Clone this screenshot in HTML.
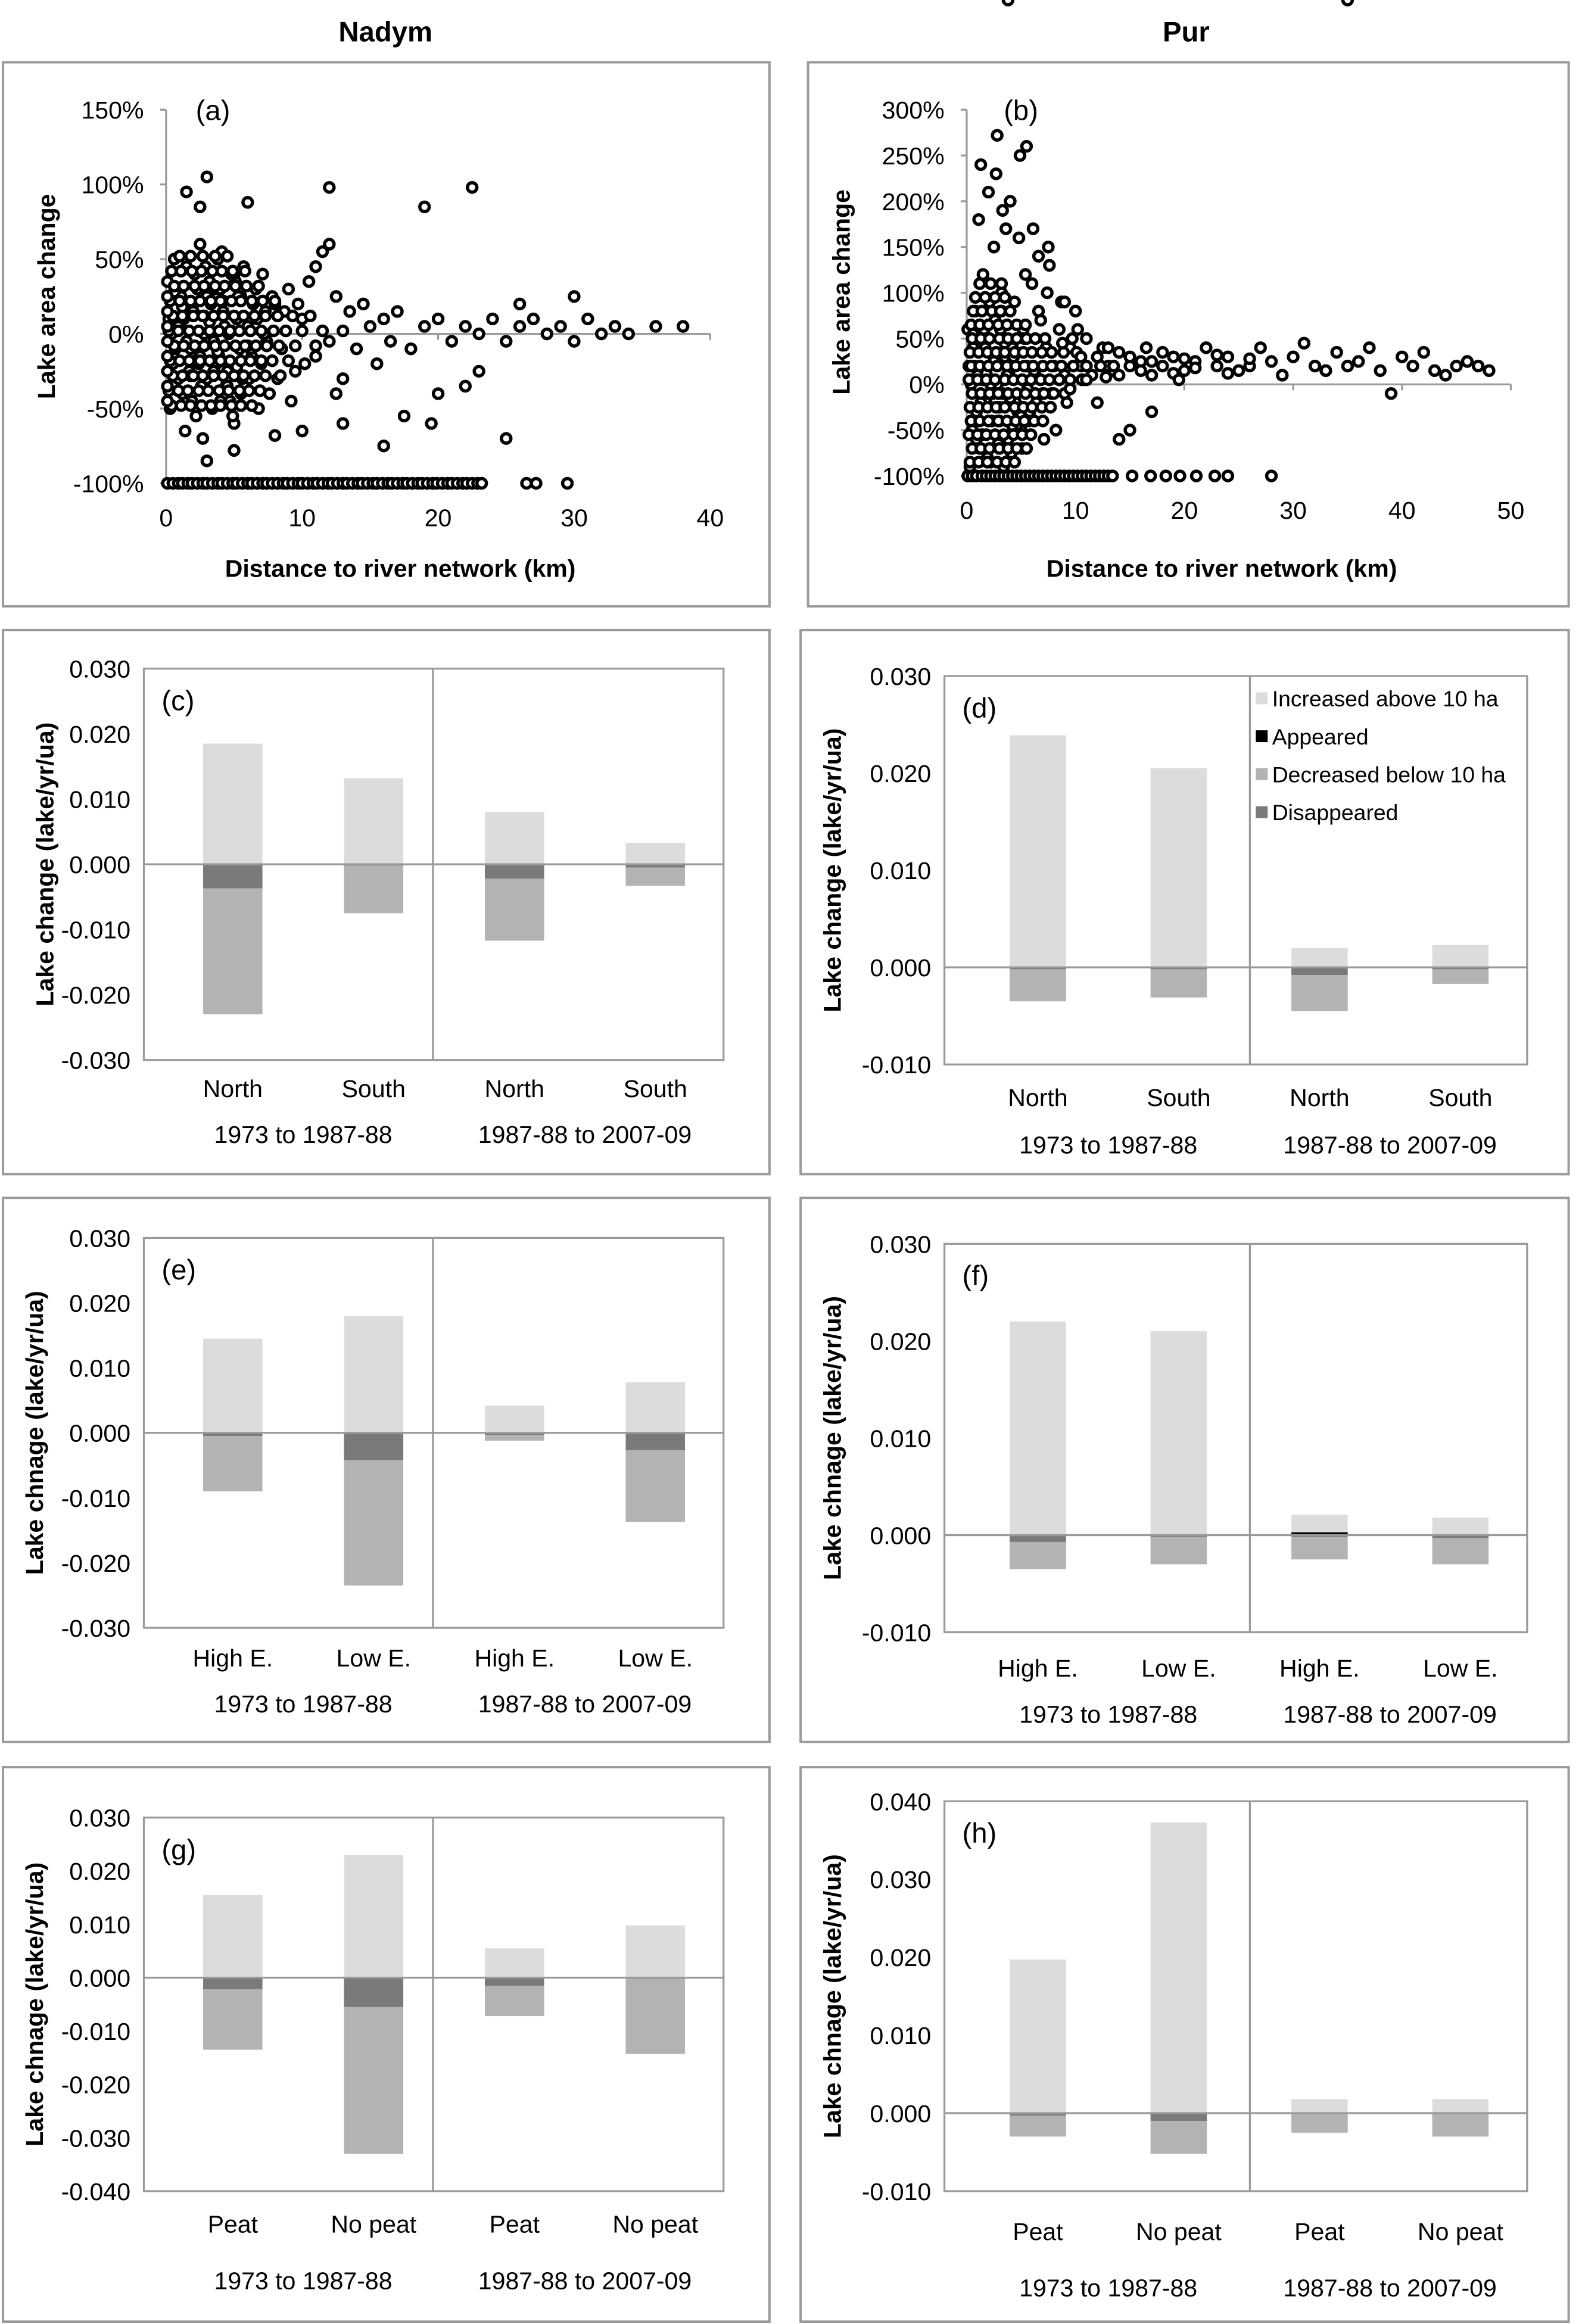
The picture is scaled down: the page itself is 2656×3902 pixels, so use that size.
<!DOCTYPE html>
<html><head><meta charset="utf-8"><style>
html,body{margin:0;padding:0;background:#fff;overflow:hidden}
svg{display:block;font-family:"Liberation Sans",Arial,sans-serif}
</style></head><body>
<svg id="fig" xmlns="http://www.w3.org/2000/svg" width="2656" height="3902" viewBox="0 0 1067 1567.6">
<rect x="0" y="0" width="1067" height="1567.6" fill="#fff"/>
<text x="260" y="28" font-size="19" font-weight="bold" text-anchor="middle">Nadym</text>
<text x="800" y="28" font-size="19" font-weight="bold" text-anchor="middle">Pur</text>
</svg>
<script>
// ---- scatter (a) Nadym ----
const aX=[0.2,0.5,0.8,1,1.2,1.5,1.8,2,2.2,2.5,2.8,3,3.2,3.5,3.8,4,4.2,4.5,4.8,5,5.2,5.5,5.8,6,6.3,6.6,7,7.3,7.6,8,8.5,9,9.5,10,10.5,11,11.5,12,12.5,13,13.5,14,14.5,15,15.5,16,16.5,17,18,19,20,21,22,23,24,25,26,27,28,29,30,31,32,33,34,36,38,
0.3,0.6,0.9,1.1,1.4,1.6,1.9,2.1,2.4,2.7,2.9,3.1,3.4,3.6,3.9,4.1,4.4,4.6,4.9,5.1,5.4,5.7,6.1,6.4,6.8,7.1,7.4,7.8,8.2,8.7,9.2,9.7,10.2,11,12,12.5,
0.4,0.7,1.3,1.7,2.3,2.6,3.3,3.7,4.3,4.7,5.3,5.6,6.2,6.7,7.2,0.1,0.9,1.5,2,2.5,3,3.5,4,4.5,5,5.5,6,1.2,2.2,3.2,4.2,5.2,0.6,1.8,2.8,3.8,4.8,
1.5,2.5,3,6,12,19,22.5,3,5,8,10,13,16,17.5,19.5,20,22,25,23,26,30];
const aY=[10,-20,30,5,-40,45,-10,20,-55,60,0,-30,35,-5,50,-45,15,-25,40,-60,10,25,-35,5,-15,30,-20,15,-40,20,-10,30,-25,10,35,-15,55,-5,25,-30,15,-10,20,5,-20,10,-5,15,-10,5,10,-5,5,0,10,-5,5,10,0,5,-5,10,0,5,0,5,5,
-50,50,-30,25,-65,15,-45,40,-20,-70,45,10,-50,30,-15,55,-35,0,-55,35,-10,45,-30,20,-50,40,-5,25,-30,15,-45,20,-20,45,60,-40,
0,-10,10,-25,30,-35,20,-20,5,-45,25,-30,-10,10,0,35,5,-5,15,-15,25,-25,30,-35,40,-40,-8,18,-18,8,22,-22,28,-28,12,-12,2,
95,85,105,88,98,85,98,-85,-78,-68,-65,-60,-75,-55,-60,-40,-35,-70,-25,20,25];
const aX2=[0.4,1.1,1.8,2.6,3.3,4.0,4.8,5.5,6.3,
0.2,0.9,1.6,2.4,3.1,3.9,4.6,5.4,6.1,6.9,
0.5,1.2,2.0,2.7,3.5,4.2,5.0,5.7,6.5,7.3,8.4,
0.3,1.0,1.7,2.5,3.2,4.0,4.7,5.5,6.2,7.0,7.8,9.0,
0.6,1.3,2.1,2.8,3.6,4.3,5.1,5.8,6.6,7.4,8.3,9.5,11,
0.2,0.9,1.7,2.4,3.2,3.9,4.7,5.4,6.2,7.0,7.9,8.8,10,11.5,13,
0.5,1.2,2.0,2.7,3.5,4.2,5.0,5.7,6.5,7.3,8.2,9.3,10.6,
0.3,1.0,1.8,2.5,3.3,4.0,4.8,5.5,6.3,7.1,8.0,
0.6,1.3,2.1,2.8,3.6,4.3,5.1,5.9,6.8,
0.4,1.1,1.9,2.6,3.4,4.1,4.9,5.8,
1.0,1.8,2.7,3.6,4.5,
0.1,0.1,0.1,0.1,0.1,0.1,0.1,0.1];
const aY2=[-48,-48,-48,-48,-48,-48,-48,-48,-48,
-38,-38,-38,-38,-38,-38,-38,-38,-38,-38,
-28,-28,-28,-28,-28,-28,-28,-28,-28,-28,-28,
-18,-18,-18,-18,-18,-18,-18,-18,-18,-18,-18,-18,
-8,-8,-8,-8,-8,-8,-8,-8,-8,-8,-8,-8,-8,
2,2,2,2,2,2,2,2,2,2,2,2,2,2,2,
12,12,12,12,12,12,12,12,12,12,12,12,12,
22,22,22,22,22,22,22,22,22,22,22,
32,32,32,32,32,32,32,32,32,
42,42,42,42,42,42,42,42,
52,52,52,52,52,
-45,-35,-25,-15,-5,5,15,25];
const aRow=[0.1,0.5,0.9,1.2,1.6,1.9,2.3,2.7,3.0,3.4,3.8,4.1,4.5,4.9,5.2,5.6,6.0,6.3,6.7,7.1,7.4,7.8,8.2,8.6,8.9,9.3,9.7,10,10.4,10.8,11.1,11.5,11.9,12.2,12.6,13,13.3,13.7,14.1,14.4,14.8,15.2,15.5,15.9,16.3,16.6,17,17.4,17.7,18.1,18.5,18.8,19.2,19.6,19.9,20.3,20.7,21,21.4,21.8,22.1,22.5,22.9,23.2,26.5,27.2,29.5];
const aXTicks=[0,10,20,30,40];
const aYTicks=[-100,-50,0,50,100,150];
// ---- scatter (b) Pur ----
const bX=[0.2,0.5,0.8,1,1.2,1.5,1.8,2,2.2,2.5,2.8,3,3.2,3.5,3.8,4,4.2,4.5,4.8,5,5.2,5.5,5.8,6,6.3,6.6,7,7.3,7.6,8,8.5,9,9.5,10,10.5,11,11.5,12,12.5,13,13.5,14,15,16,17,18,19,20,21,22,23,24,25,26,27,28,29,30,31,32,33,34,35,36,37,38,39,40,41,42,43,44,45,46,47,48,
0.3,0.6,0.9,1.1,1.4,1.6,1.9,2.1,2.4,2.7,2.9,3.1,3.4,3.6,3.9,4.1,4.4,4.6,4.9,5.1,5.4,5.7,6.1,6.4,6.8,7.1,7.4,7.8,8.2,8.7,9.2,9.7,1.3,2,3.3,5.5,6.6,7.5,9,10.2,14,15,17,
0.4,0.7,1.3,1.7,2.3,2.6,3.3,3.7,4.3,4.7,5.3,5.6,6.2,0.1,0.9,1.5,2.5,3,3.5,4,4.5,5,1.2,2.2,3.2,4.2,0.6,1.8,2.8,3.8,35];
const bY=[20,-50,80,10,-70,120,-20,50,-85,150,0,-40,100,30,-60,200,40,-20,160,-50,60,20,-30,110,10,80,-10,40,130,20,60,10,40,80,20,50,10,30,40,20,15,35,20,25,10,20,30,15,25,40,20,30,15,20,40,25,10,30,45,20,15,35,20,25,40,15,-10,30,20,35,15,10,20,25,20,15,
-90,40,-30,180,-55,60,-80,90,-10,230,-65,60,-90,170,15,-75,90,-45,250,-70,120,-40,170,-20,70,-60,100,-10,-50,90,-20,50,240,210,190,260,140,150,90,60,-60,-50,-30,
0,20,-20,40,-40,70,-10,10,30,-30,50,-5,15,60,-60,5,25,-25,45,-15,35,-35,65,0,80,-45,55,12,272];
const bX2=[0.3,1.1,1.9,2.8,3.6,4.4,
0.5,1.3,2.1,3.0,3.8,4.6,5.5,
0.2,1.0,1.8,2.6,3.4,4.3,5.1,5.9,
0.4,1.2,2.0,2.9,3.7,4.5,5.3,6.2,7.0,
0.3,1.1,1.9,2.7,3.5,4.4,5.2,6.0,6.9,7.7,
0.5,1.3,2.1,2.9,3.8,4.6,5.4,6.3,7.1,8.0,9.0,
0.2,1.0,1.8,2.6,3.5,4.3,5.1,5.9,6.8,7.6,8.5,9.5,10.6,
0.4,1.2,2.0,2.8,3.7,4.5,5.3,6.1,7.0,7.8,8.7,9.8,11,12.3,13.5,
0.3,1.1,1.9,2.7,3.5,4.4,5.2,6.0,6.9,7.8,8.9,10.1,
0.5,1.3,2.1,3.0,3.8,4.6,5.5,6.3,7.2,
0.4,1.2,2.0,2.9,3.7,4.6,5.4,
0.6,1.4,2.3,3.1,4.0,
0.8,1.7,2.6,3.5,
1.2,2.2,3.2,
14,15,16,17,18,19,20,21,23,24,26,13,12,11,10.5,9.5,8.8,12.8,16.5,19.5];
const bY2=[-85,-85,-85,-85,-85,-85,
-70,-70,-70,-70,-70,-70,-70,
-55,-55,-55,-55,-55,-55,-55,-55,
-40,-40,-40,-40,-40,-40,-40,-40,-40,
-25,-25,-25,-25,-25,-25,-25,-25,-25,-25,
-10,-10,-10,-10,-10,-10,-10,-10,-10,-10,-10,
5,5,5,5,5,5,5,5,5,5,5,5,5,
20,20,20,20,20,20,20,20,20,20,20,20,20,20,20,
35,35,35,35,35,35,35,35,35,35,35,35,
50,50,50,50,50,50,50,50,50,
65,65,65,65,65,65,65,
80,80,80,80,80,
95,95,95,95,
110,110,110,
10,30,15,25,35,12,28,18,32,12,28,40,-20,5,30,-5,45,8,40,5];
const bRow=[0.1,0.5,0.9,1.4,1.8,2.2,2.6,3.0,3.4,3.8,4.2,4.6,5.0,5.4,5.8,6.2,6.6,7.0,7.4,7.8,8.2,8.6,9.0,9.4,9.8,10.2,10.6,11.0,11.4,11.8,12.2,12.6,13.0,13.4,15.2,16.9,18.3,19.6,21.1,22.8,24,28];
const bXTicks=[0,10,20,30,40,50];
const bYTicks=[-100,-50,0,50,100,150,200,250,300];

// ---- bar charts: segments [increased, appeared, decreased, disappeared] ----
const cCats=["North","South","North","South"];
const cInc=[0.0185,0.0132,0.0080,0.0033];
const cApp=[0,0,0,0];
const cDis=[0.0037,0.0002,0.0022,0.0005];
const cDec=[0.0193,0.0073,0.0095,0.0028];
const cTicks=[-0.03,-0.02,-0.01,0,0.01,0.02,0.03];

const dCats=["North","South","North","South"];
const dInc=[0.0239,0.0205,0.0020,0.0023];
const dApp=[0,0,0,0];
const dDis=[0.0002,0.0002,0.0008,0.0002];
const dDec=[0.0033,0.0029,0.0037,0.0015];
const dTicks=[-0.01,0,0.01,0.02,0.03];

const eCats=["High E.","Low E.","High E.","Low E."];
const eInc=[0.0145,0.0180,0.0042,0.0078];
const eApp=[0,0,0,0];
const eDis=[0.0005,0.0042,0.0003,0.0027];
const eDec=[0.0085,0.0193,0.0009,0.0110];
const eTicks=[-0.03,-0.02,-0.01,0,0.01,0.02,0.03];

const fCats=["High E.","Low E.","High E.","Low E."];
const fInc=[0.0220,0.0210,0.0018,0.0018];
const fApp=[0,0,0.0003,0];
const fDis=[0.0007,0.0002,0.0002,0.0003];
const fDec=[0.0028,0.0028,0.0023,0.0027];
const fTicks=[-0.01,0,0.01,0.02,0.03];

const gCats=["Peat","No peat","Peat","No peat"];
const gInc=[0.0155,0.0230,0.0055,0.0098];
const gApp=[0,0,0,0];
const gDis=[0.0022,0.0055,0.0015,0.0002];
const gDec=[0.0113,0.0275,0.0057,0.0141];
const gTicks=[-0.04,-0.03,-0.02,-0.01,0,0.01,0.02,0.03];

const hCats=["Peat","No peat","Peat","No peat"];
const hInc=[0.0197,0.0373,0.0018,0.0018];
const hApp=[0,0,0,0];
const hDis=[0.0003,0.0010,0.0001,0.0001];
const hDec=[0.0027,0.0042,0.0024,0.0029];
const hTicks=[-0.01,0,0.01,0.02,0.03,0.04];

const periods=["1973 to 1987-88","1987-88 to 2007-09"];
const legendLabels=["Increased above 10 ha","Appeared","Decreased below 10 ha","Disappeared"];

const NS="http://www.w3.org/2000/svg";
const svg=document.getElementById("fig");
function mk(tag,attrs,parent,txt){const e=document.createElementNS(NS,tag);for(const k in attrs)e.setAttribute(k,attrs[k]);if(txt!==undefined)e.textContent=txt;(parent||svg).appendChild(e);return e;}
const AX="#9a9a9a";

function scatter(o){
  const g=mk("g",{});
  
  
  const box=mk("rect",{x:o.bx,y:42,width:o.bw,height:367,fill:"none",stroke:AX,"stroke-width":1.6},g);
  
  
  const sx=v=>o.x0+(v-o.xmin)/(o.xmax-o.xmin)*(o.x1-o.x0);
  const sy=v=>o.yb+(v-o.ymin)/(o.ymax-o.ymin)*(o.yt-o.yb);
  const ya=mk("line",{x1:sx(0),x2:sx(0),y1:sy(o.ymin),y2:sy(o.ymax),stroke:AX,"stroke-width":1.3},g);
  
  
  const xa=mk("line",{x1:sx(0),x2:sx(o.xmax),y1:sy(0),y2:sy(0),stroke:AX,"stroke-width":1.3},g);
  
  
  o.yticks.forEach(t=>{
    mk("line",{x1:sx(0)-4,x2:sx(0),y1:sy(t),y2:sy(t),stroke:AX,"stroke-width":1.3},g);
    const l=mk("text",{x:sx(0)-15,y:sy(t)+6,"font-size":16.5,"text-anchor":"end"},g,t+"%");
    
    
  });
  o.xticks.forEach(t=>{
    mk("line",{x1:sx(t),x2:sx(t),y1:sy(0),y2:sy(0)+4,stroke:AX,"stroke-width":1.3},g);
    const l=mk("text",{x:sx(t),y:o.xly,"font-size":16.5,"text-anchor":"middle"},g,String(t));
    
    
  });
  const pts=mk("g",{fill:"#fff",stroke:"#000","stroke-width":2.2},g);
  
  
  const all=[[o.xs,o.ys],[o.xs2,o.ys2]];
  all.forEach(([xs,ys])=>xs.forEach((x,i)=>{const c=mk("circle",{cx:sx(x),cy:sy(ys[i]),r:3.2},pts);
    
    }));
  o.row.forEach(x=>{const c=mk("circle",{cx:sx(x),cy:sy(-100),r:3.2},pts);
    
    });
  const pl=mk("text",{x:o.plx,y:81,"font-size":19},g,o.label);
  
  
  const xt=mk("text",{x:o.xtx,y:389,"font-size":16.5,"font-weight":"bold","text-anchor":"middle"},g,"Distance to river network (km)");
  
  
  const yt=mk("text",{x:0,y:0,"font-size":16.5,"font-weight":"bold","text-anchor":"middle",transform:`translate(${o.ytx},${o.yty}) rotate(-90)`},g,"Lake area change");
  
  
}
scatter({name:"scatter-a",bx:2,bw:517,x0:112,x1:479,xmin:0,xmax:40,yt:74,yb:326,ymin:-100,ymax:150,xs:aX,ys:aY,xs2:aX2,ys2:aY2,row:aRow,xticks:aXTicks,yticks:aYTicks,xly:355,plx:132,label:"(a)",xtx:270,ytx:37,yty:200});
scatter({name:"scatter-b",bx:545,bw:513,x0:652,x1:1019,xmin:0,xmax:50,yt:74,yb:321,ymin:-100,ymax:300,xs:bX,ys:bY,xs2:bX2,ys2:bY2,row:bRow,xticks:bXTicks,yticks:bYTicks,xly:350,plx:677,label:"(b)",xtx:824,ytx:573,yty:197});

const COL={inc:"#dcdcdc",app:"#000",dec:"#b3b3b3",dis:"#7a7a7a"};
function bars(o){
  const g=mk("g",{});
  
  
  const box=mk("rect",{x:o.bx,y:o.by,width:o.bw,height:o.bh,fill:"none",stroke:AX,"stroke-width":1.6},g);
  
  
  const sy=v=>o.yb+(v-o.ymin)/(o.ymax-o.ymin)*(o.yt-o.yb);
  const pa=mk("rect",{x:o.px0,y:o.yt,width:o.px1-o.px0,height:o.yb-o.yt,fill:"none",stroke:AX,"stroke-width":1.3},g);
  
  
  o.ticks.forEach(t=>{
    const l=mk("text",{x:o.px0-9,y:sy(t)+6,"font-size":16.5,"text-anchor":"end"},g,t.toFixed(3));
    
    
  });
  const step=o.step;
  o.cats.forEach((c,i)=>{
    const cx=o.c0+i*step, w=o.bw2, x=cx-w/2;
    const segs=[["app",o.app[i],1],["inc",o.inc[i],1],["dis",o.dis[i],-1],["dec",o.dec[i],-1]];
    let pos=0,neg=0;
    segs.forEach(([k,v,s])=>{
      if(!v)return;
      let a,b;
      if(s>0){a=pos;b=pos+v;pos=b;}else{a=neg;b=neg-v;neg=b;}
      const y1=sy(Math.max(a,b)),y2=sy(Math.min(a,b));
      const r=mk("rect",{x:x,y:y1,width:w,height:Math.max(y2-y1,k==="app"?1.2:0),fill:COL[k]},g);
      
      
    });
    const l=mk("text",{x:cx,y:o.cly,"font-size":16.5,"text-anchor":"middle"},g,c);
    
    
  });
  const z=mk("line",{x1:o.px0,x2:o.px1,y1:sy(0),y2:sy(0),stroke:"#999","stroke-width":1.3},g);
  
  
  const dv=mk("line",{x1:o.div,x2:o.div,y1:o.yt,y2:o.dvb,stroke:AX,"stroke-width":1.3},g);
  
  
  periods.forEach((p,i)=>{
    const l=mk("text",{x:o.c0+step/2+i*2*step,y:o.ply,"font-size":16.5,"text-anchor":"middle"},g,p);
    
    
  });
  const pl=mk("text",{x:o.px0+12,y:o.yt+28,"font-size":19},g,o.label);
  
  
  const yt=mk("text",{x:0,y:0,"font-size":16.5,"font-weight":"bold","text-anchor":"middle",transform:`translate(${o.ytx},${(o.yt+o.yb)/2}) rotate(-90)`},g,o.ytitle);
  
  
}
const L={bx:2,bw:517,px0:97,px1:488,div:292,c0:157,step:95,bw2:40};
const R={bx:540,bw:518,px0:637,px1:1030,div:843,c0:700,step:95,bw2:38};
bars(Object.assign({},L,{name:"bar-chart-c",by:425,bh:367,yt:451,yb:715,ymin:-0.03,ymax:0.03,ticks:cTicks,cats:cCats,inc:cInc,app:cApp,dis:cDis,dec:cDec,cly:740,ply:771,dvb:715,label:"(c)",ytitle:"Lake change (lake/yr/ua)",ytx:36}));
bars(Object.assign({},R,{name:"bar-chart-d",by:425,bh:367,yt:456,yb:718,ymin:-0.01,ymax:0.03,ticks:dTicks,cats:dCats,inc:dInc,app:dApp,dis:dDis,dec:dDec,cly:746,ply:778,dvb:718,label:"(d)",ytitle:"Lake change (lake/yr/ua)",ytx:567}));
bars(Object.assign({},L,{name:"bar-chart-e",by:808,bh:367,yt:835,yb:1098,ymin:-0.03,ymax:0.03,ticks:eTicks,cats:eCats,inc:eInc,app:eApp,dis:eDis,dec:eDec,cly:1124,ply:1155,dvb:1098,label:"(e)",ytitle:"Lake chnage (lake/yr/ua)",ytx:29}));
bars(Object.assign({},R,{name:"bar-chart-f",by:808,bh:367,yt:839,yb:1101,ymin:-0.01,ymax:0.03,ticks:fTicks,cats:fCats,inc:fInc,app:fApp,dis:fDis,dec:fDec,cly:1131,ply:1162,dvb:1101,label:"(f)",ytitle:"Lake chnage (lake/yr/ua)",ytx:567}));
bars(Object.assign({},L,{name:"bar-chart-g",by:1192,bh:374,yt:1226,yb:1478,ymin:-0.04,ymax:0.03,ticks:gTicks,cats:gCats,inc:gInc,app:gApp,dis:gDis,dec:gDec,cly:1506,ply:1544,dvb:1478,label:"(g)",ytitle:"Lake chnage (lake/yr/ua)",ytx:29}));
bars(Object.assign({},R,{name:"bar-chart-h",by:1192,bh:374,yt:1215,yb:1478,ymin:-0.01,ymax:0.04,ticks:hTicks,cats:hCats,inc:hInc,app:hApp,dis:hDis,dec:hDec,cly:1511,ply:1549,dvb:1478,label:"(h)",ytitle:"Lake chnage (lake/yr/ua)",ytx:567}));

// legend in (d)
const lg=mk("g",{});


const lcols=[COL.inc,COL.app,COL.dec,COL.dis];
legendLabels.forEach((t,i)=>{
  const y=471+i*25.6;
  const s=mk("rect",{x:847,y:y-4,width:8,height:8,fill:lcols[i]},lg);
  
  
  const l=mk("text",{x:858,y:y+5.5,"font-size":15},lg,t);
  
  
});
</script>
</body></html>
